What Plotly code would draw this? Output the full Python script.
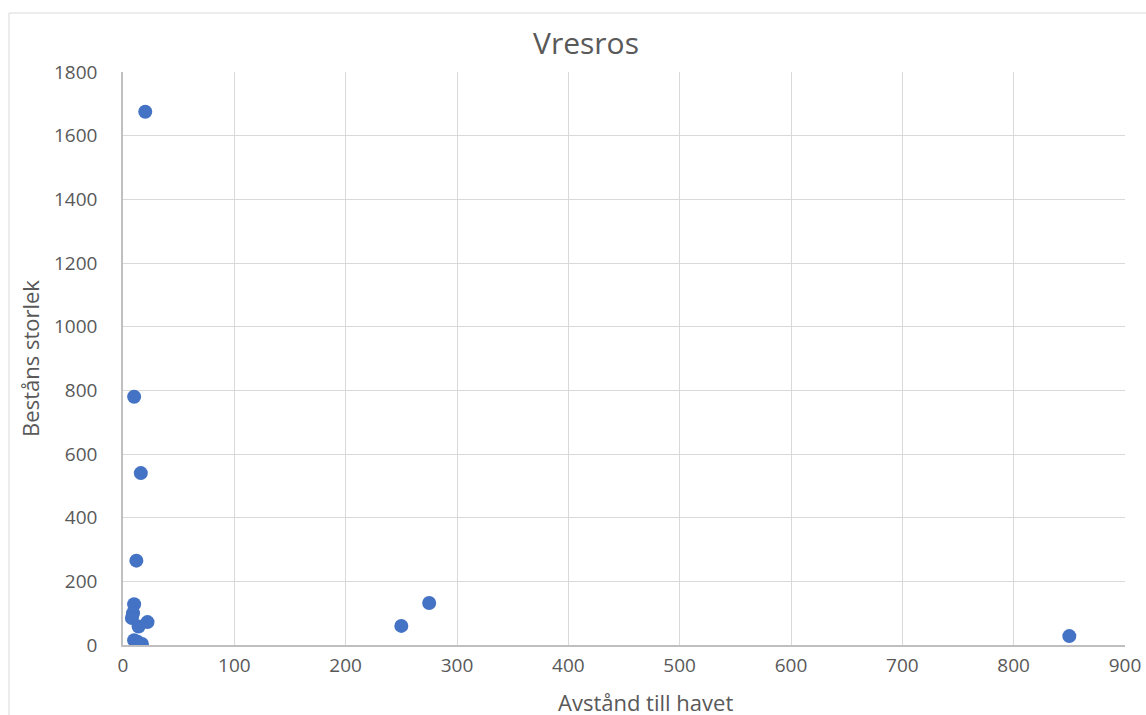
import plotly.graph_objects as go

avstand = [20, 10, 16, 12, 10, 9, 8, 22, 14, 10, 17, 13, 250, 275, 850]
bestand = [1675, 780, 540, 265, 128, 100, 85, 72, 58, 15, 3, 10, 60, 132, 28]
title = "Vresros"
x_title = "Avstånd till havet"
y_title = "Beståns storlek"

W, H = 1146, 715
L, R, T, B = 123, 1125, 72, 645  # plot area in page pixels

fig = go.Figure(go.Scatter(
    x=avstand, y=bestand, mode="markers",
    marker=dict(size=14, color="#4472C4"),
))
grid = "#d9d9d9"
fnt = "Open Sans, Liberation Sans, sans-serif"
fig.update_layout(
    width=W, height=H,
    margin=dict(l=L, r=W - R, t=T, b=H - B),
    paper_bgcolor="white", plot_bgcolor="white",
    showlegend=False,
    font=dict(family=fnt, color="#595959", size=18),
    title=dict(text=title, x=586 / W, xanchor="center",
               y=1 - 43 / H, yanchor="middle",
               font=dict(size=30, color="#595959")),
    xaxis=dict(range=[0, 900], dtick=100, showgrid=True, gridcolor=grid, gridwidth=1,
               zeroline=False, showline=True, linecolor="#bfbfbf", linewidth=1.5,
               ticks="", tickfont=dict(size=19), ticklabelstandoff=2,
               automargin=False),
    yaxis=dict(range=[0, 1800], dtick=200, showgrid=True, gridcolor=grid, gridwidth=1,
               zeroline=False, showline=True, linecolor="#bfbfbf", linewidth=1.5,
               ticks="", tickfont=dict(size=19), ticklabelstandoff=20,
               automargin=False,
               title=dict(text=y_title, font=dict(size=22), standoff=8)),
    annotations=[dict(text=x_title, xref="paper", yref="paper",
                      x=(645 - L) / (R - L), y=-(702 - B) / (B - T),
                      xanchor="center", yanchor="middle", showarrow=False,
                      font=dict(size=22, color="#595959"))],
    shapes=[dict(type="rect", xref="paper", yref="paper",
                 x0=(9 - L) / (R - L), x1=(W + 20 - L) / (R - L),
                 y0=-(H + 20 - B) / (B - T), y1=1 + (T - 13) / (B - T),
                 line=dict(color="#d9d9d9", width=1), layer="below")],
)
fig.write_html(
    "out.html",
    config={"displayModeBar": False},
    post_script="document.body.style.margin='0';document.body.style.overflow='hidden';",
)
